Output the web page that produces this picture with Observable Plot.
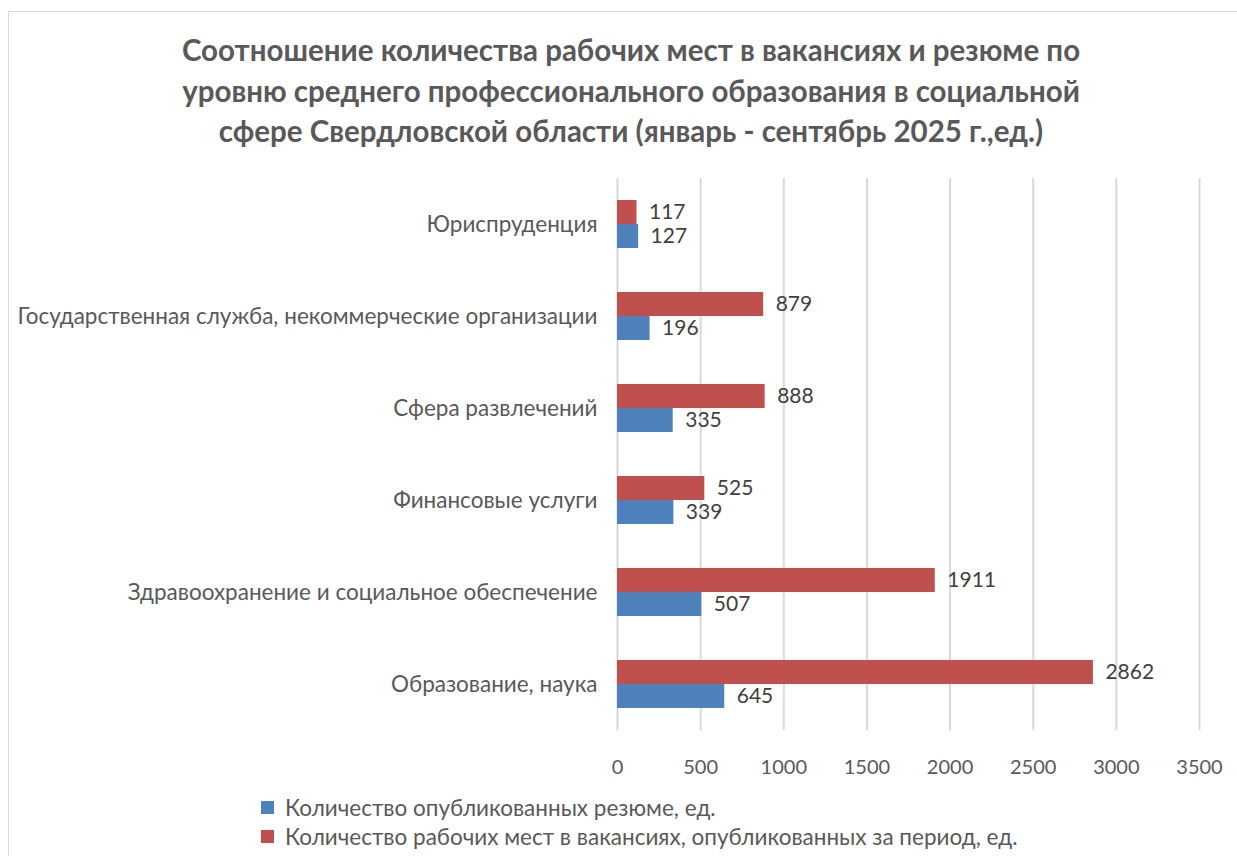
<!DOCTYPE html>
<html>
<head>
<meta charset="utf-8">
<script src="https://cdn.jsdelivr.net/npm/d3@7"></script>
<script src="https://cdn.jsdelivr.net/npm/@observablehq/plot@0.6"></script>
<style>
  html, body { margin: 0; padding: 0; background: #fff; }
  body { width: 1237px; height: 856px; position: relative; overflow: hidden; font-family: Lato, "Open Sans", sans-serif; }
  #frame { position: absolute; left: 8px; top: 11px; width: 1260px; height: 880px; border: 1.5px solid #d9d9d9; box-sizing: border-box; }
  #title { position: absolute; left: 131px; top: 30px; width: 1000px; text-align: center; font-weight: bold; font-size: 29.5px; line-height: 40.5px; color: #595959; }
  #chart { position: absolute; left: 0; top: 150px; }
  .legend { position: absolute; left: 261px; font-size: 22.5px; color: #595959; display: flex; align-items: center; white-space: nowrap; }
  .legend .sw { width: 13px; height: 13px; margin-right: 11px; }
</style>
</head>
<body>
<div id="frame"></div>
<div id="title">Соотношение количества рабочих мест в вакансиях и резюме по<br>уровню среднего профессионального образования в социальной<br>сфере Свердловской области (январь - сентябрь 2025 г.,ед.)</div>
<div id="chart"></div>
<div id="legend"></div>
<script>
const categories = [
  "Юриспруденция",
  "Государственная служба, некоммерческие организации",
  "Сфера развлечений",
  "Финансовые услуги",
  "Здравоохранение и социальное обеспечение",
  "Образование, наука"
];
const resumes = [127, 196, 335, 339, 507, 645];
const vacancies = [117, 879, 888, 525, 1911, 2862];
const xTicks = [0, 500, 1000, 1500, 2000, 2500, 3000, 3500];
const seriesKeys = ["vac", "res"];
const seriesNames = {
  res: "Количество опубликованных резюме, ед.",
  vac: "Количество рабочих мест в вакансиях, опубликованных за период, ед."
};
const seriesColors = { res: "#4F81BD", vac: "#C0504D" };

const data = [];
categories.forEach((c, i) => {
  data.push({ cat: c, series: "vac", value: vacancies[i] });
  data.push({ cat: c, series: "res", value: resumes[i] });
});

const chart = Plot.plot({
  width: 1237,
  height: 632,
  marginLeft: 617,
  marginRight: 38,
  marginTop: 26,
  marginBottom: 50,
  style: { fontFamily: "Lato, 'Open Sans', sans-serif", fontSize: "19.5px", color: "#595959", background: "transparent" },
  x: { domain: [0, 3500], label: null },
  fy: { domain: categories, padding: 0, label: null },
  y: { domain: seriesKeys, axis: null, paddingInner: 0, paddingOuter: 0.89 },
  color: { domain: ["res", "vac"], range: [seriesColors.res, seriesColors.vac] },
  marks: [
    Plot.ruleX(xTicks, { stroke: "#d9d9d9", strokeWidth: 2 }),
    Plot.barX(data, { x: "value", y: "series", fy: "cat", fill: "series" }),
    Plot.text(data, { x: "value", y: "series", fy: "cat", text: d => String(d.value), dx: 12, textAnchor: "start", fill: "#404040", fontSize: 21 }),
    Plot.axisX({ ticks: xTicks, tickSize: 0, tickPadding: 29, label: null, tickFormat: d => String(d), fill: "#595959", fontSize: 20 }),
    Plot.axisFy({ anchor: "left", tickSize: 0, tickPadding: 20, label: null, fill: "#595959", fontSize: 22.5 })
  ]
});
document.getElementById("chart").appendChild(chart);

const legend = document.getElementById("legend");
[["res", 794], ["vac", 823]].forEach(([k, top]) => {
  const row = document.createElement("div");
  row.className = "legend";
  row.style.top = top + "px";
  const sw = document.createElement("div");
  sw.className = "sw";
  sw.style.background = seriesColors[k];
  const t = document.createElement("span");
  t.textContent = seriesNames[k];
  row.appendChild(sw);
  row.appendChild(t);
  legend.appendChild(row);
});
</script>
</body>
</html>
